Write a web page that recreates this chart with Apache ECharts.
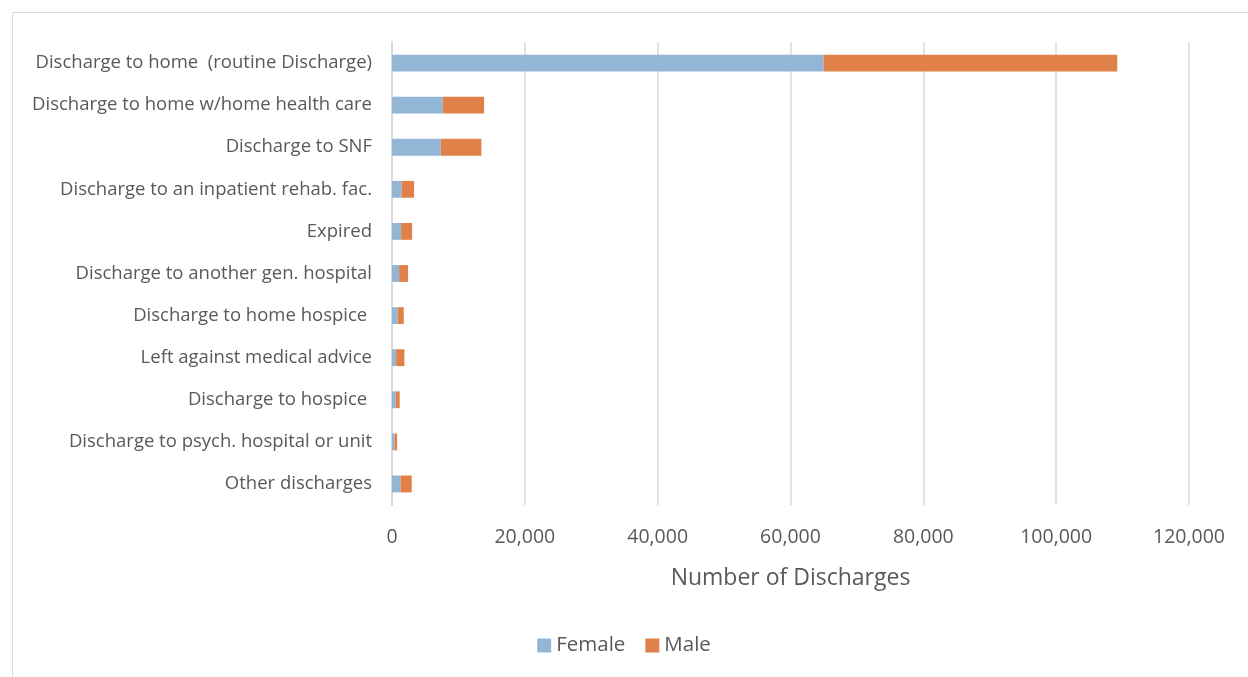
<!DOCTYPE html>
<html>
<head>
<meta charset="utf-8">
<script src="https://cdn.jsdelivr.net/npm/echarts@6/dist/echarts.min.js"></script>
<style>
  html, body { margin: 0; padding: 0; background: #fff; }
  #chart { width: 1248px; height: 677px; }
</style>
</head>
<body>
<div id="chart"></div>
<script>
// categories listed top to bottom as in the picture
const categories = [
  'Discharge to home  (routine Discharge)',
  'Discharge to home w/home health care',
  'Discharge to SNF',
  'Discharge to an inpatient rehab. fac.',
  'Expired',
  'Discharge to another gen. hospital',
  'Discharge to home hospice ',
  'Left against medical advice',
  'Discharge to hospice ',
  'Discharge to psych. hospital or unit',
  'Other discharges'
];
const female = [65000, 7640, 7340, 1460, 1370, 1070, 860, 620, 560, 360, 1270];
const male = [44200, 6230, 6120, 1870, 1660, 1350, 910, 1250, 600, 410, 1700];
const xTicks = [0, 20000, 40000, 60000, 80000, 100000, 120000];

const FONT = '"Open Sans", "Noto Sans", sans-serif';
const TEXT = '#595959';

const chart = echarts.init(document.getElementById('chart'));
chart.setOption({
  animation: false,
  textStyle: { fontFamily: FONT },
  graphic: [{
    type: 'rect',
    shape: { x: 12.5, y: 12.5, width: 1240, height: 670 },
    style: { fill: 'none', stroke: '#d9d9d9', lineWidth: 1 },
    silent: true
  }],
  grid: { left: 392, right: 59, top: 42, bottom: 172, containLabel: false },
  legend: {
    bottom: 16,
    left: 'center',
    itemWidth: 14,
    itemHeight: 14,
    itemGap: 20,
    icon: 'rect',
    textStyle: { color: TEXT, fontSize: 20.5, fontFamily: FONT },
    data: ['Female', 'Male']
  },
  xAxis: {
    type: 'value',
    min: xTicks[0],
    max: xTicks[xTicks.length - 1],
    interval: 20000,
    name: 'Number of Discharges',
    nameLocation: 'middle',
    nameGap: 62,
    nameTextStyle: { color: TEXT, fontSize: 23, fontFamily: FONT },
    axisLine: { show: false },
    axisTick: { show: false },
    axisLabel: {
      color: TEXT, fontSize: 19.5, margin: 22, fontFamily: FONT,
      formatter: v => v.toLocaleString('en-US')
    },
    splitLine: { show: true, lineStyle: { color: '#d9d9d9', width: 1.5 } }
  },
  yAxis: {
    type: 'category',
    inverse: true,
    data: categories,
    axisLine: { show: true, lineStyle: { color: '#d9d9d9', width: 2 } },
    axisTick: { show: false },
    axisLabel: { color: TEXT, fontSize: 18.5, margin: 20, fontFamily: FONT }
  },
  series: [
    {
      name: 'Female', type: 'bar', stack: 'total', data: female,
      barWidth: '40%',
      itemStyle: { color: '#94B6D6' }
    },
    {
      name: 'Male', type: 'bar', stack: 'total', data: male,
      barWidth: '40%',
      itemStyle: { color: '#E0814A' }
    }
  ]
});
</script>
</body>
</html>
